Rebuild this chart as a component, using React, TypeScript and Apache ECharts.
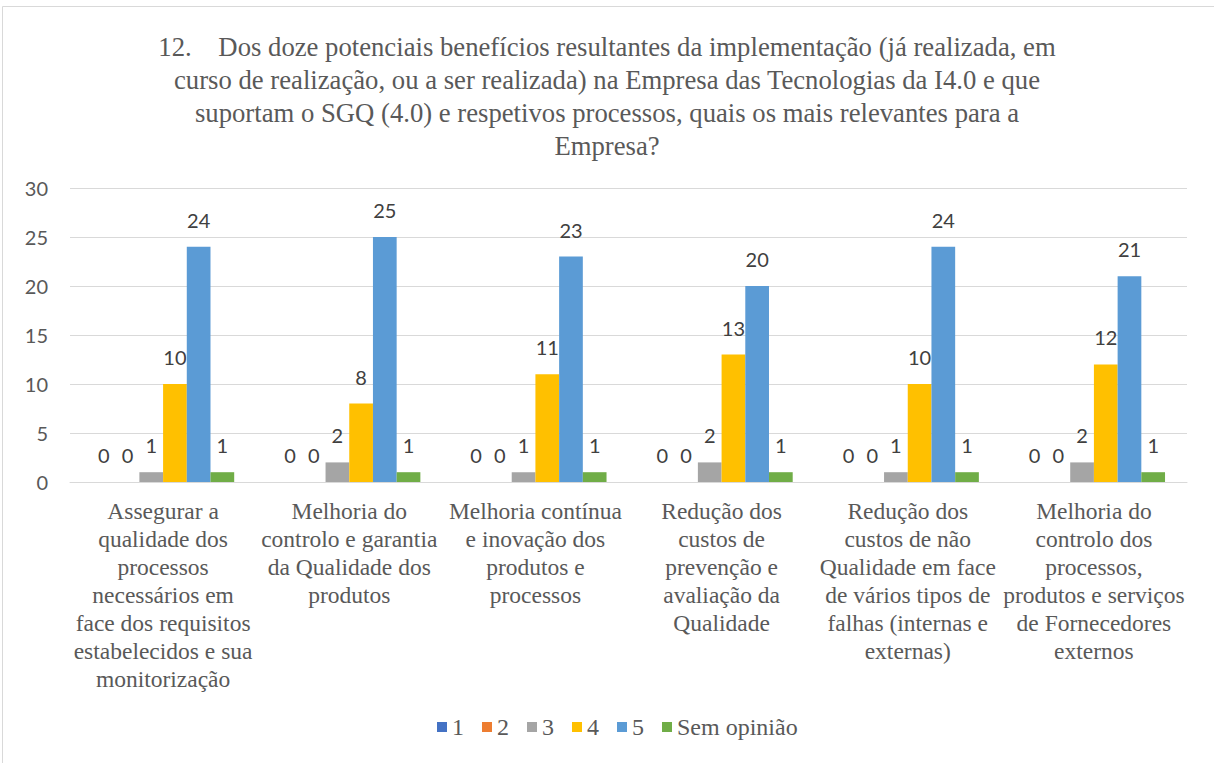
import React, { useEffect, useRef } from "react";
import * as echarts from "echarts";

const titleLines = [
  "12.\u00a0\u00a0\u00a0\u00a0Dos doze potenciais benefícios resultantes da implementação (já realizada, em",
  "curso de realização, ou a ser realizada) na Empresa das Tecnologias da I4.0 e que",
  "suportam o SGQ (4.0) e respetivos processos, quais os mais relevantes para a",
  "Empresa?",
];

const categories = [
  "Assegurar a\nqualidade dos\nprocessos\nnecessários em\nface dos requisitos\nestabelecidos e sua\nmonitorização",
  "Melhoria do\ncontrolo e garantia\nda Qualidade dos\nprodutos",
  "Melhoria contínua\ne inovação dos\nprodutos e\nprocessos",
  "Redução dos\ncustos de\nprevenção e\navaliação da\nQualidade",
  "Redução dos\ncustos de não\nQualidade em face\nde vários tipos de\nfalhas (internas e\nexternas)",
  "Melhoria do\ncontrolo dos\nprocessos,\nprodutos e serviços\nde Fornecedores\nexternos",
];

const seriesNames = ["1", "2", "3", "4", "5", "Sem opinião"];
const values1 = [0, 0, 0, 0, 0, 0];
const values2 = [0, 0, 0, 0, 0, 0];
const values3 = [1, 2, 1, 2, 1, 2];
const values4 = [10, 8, 11, 13, 10, 12];
const values5 = [24, 25, 23, 20, 24, 21];
const valuesSem = [1, 1, 1, 1, 1, 1];
const colors = ["#4472C4", "#ED7D31", "#A5A5A5", "#FFC000", "#5B9BD5", "#70AD47"];
const yTicks = { min: 0, max: 30, interval: 5 };

export default function App() {
  const ref = useRef<HTMLDivElement>(null);
  useEffect(() => {
    if (!ref.current) return;
    const chart = echarts.init(ref.current, undefined, { renderer: "svg" });
    const allValues = [values1, values2, values3, values4, values5, valuesSem];
    chart.setOption({
      animation: false,
      backgroundColor: "#ffffff",
      title: {
        text: titleLines.join("\n"),
        left: "center",
        top: 25,
        textStyle: {
          fontFamily: "Liberation Serif",
          fontSize: 26.7,
          fontWeight: "normal",
          color: "#595959",
          lineHeight: 33,
        },
      },
      graphic: [
        {
          type: "rect",
          shape: { x: 2.5, y: 6.5, width: 1230, height: 800 },
          style: { fill: "none", stroke: "#d9d9d9", lineWidth: 1 },
          silent: true,
        },
      ],
      legend: {
        data: seriesNames,
        left: 432,
        top: 710,
        itemWidth: 10,
        itemHeight: 10,
        itemGap: 18,
        icon: "rect",
        textStyle: {
          fontFamily: "Liberation Serif",
          fontSize: 24,
          color: "#595959",
        },
      },
      grid: { left: 70, right: 27, top: 188, bottom: 281, containLabel: false },
      xAxis: {
        type: "category",
        data: categories,
        axisLine: { lineStyle: { color: "#d9d9d9", width: 1 } },
        axisTick: { show: false },
        axisLabel: {
          interval: 0,
          margin: 15,
          fontFamily: "Liberation Serif",
          fontSize: 23.5,
          lineHeight: 28,
          color: "#595959",
          align: "center",
        },
      },
      yAxis: {
        type: "value",
        min: yTicks.min,
        max: yTicks.max,
        interval: yTicks.interval,
        axisLine: { show: false },
        axisTick: { show: false },
        splitLine: { lineStyle: { color: "#d9d9d9", width: 1 } },
        axisLabel: {
          margin: 22,
          fontFamily: "Lato",
          fontSize: 20,
          color: "#595959",
        },
      },
      series: seriesNames.map((name, i) => ({
        name,
        type: "bar",
        data: allValues[i],
        barGap: "0%",
        barCategoryGap: "23.6%",
        itemStyle: { color: colors[i] },
        label: {
          show: true,
          position: "top",
          distance: 17,
          fontFamily: "Lato",
          fontSize: 20,
          color: "#404040",
        },
      })),
    });
    return () => chart.dispose();
  }, []);
  return (
    <div
      ref={ref}
      style={{ position: "fixed", left: 0, top: 0, width: 1214, height: 763 }}
    />
  );
}
